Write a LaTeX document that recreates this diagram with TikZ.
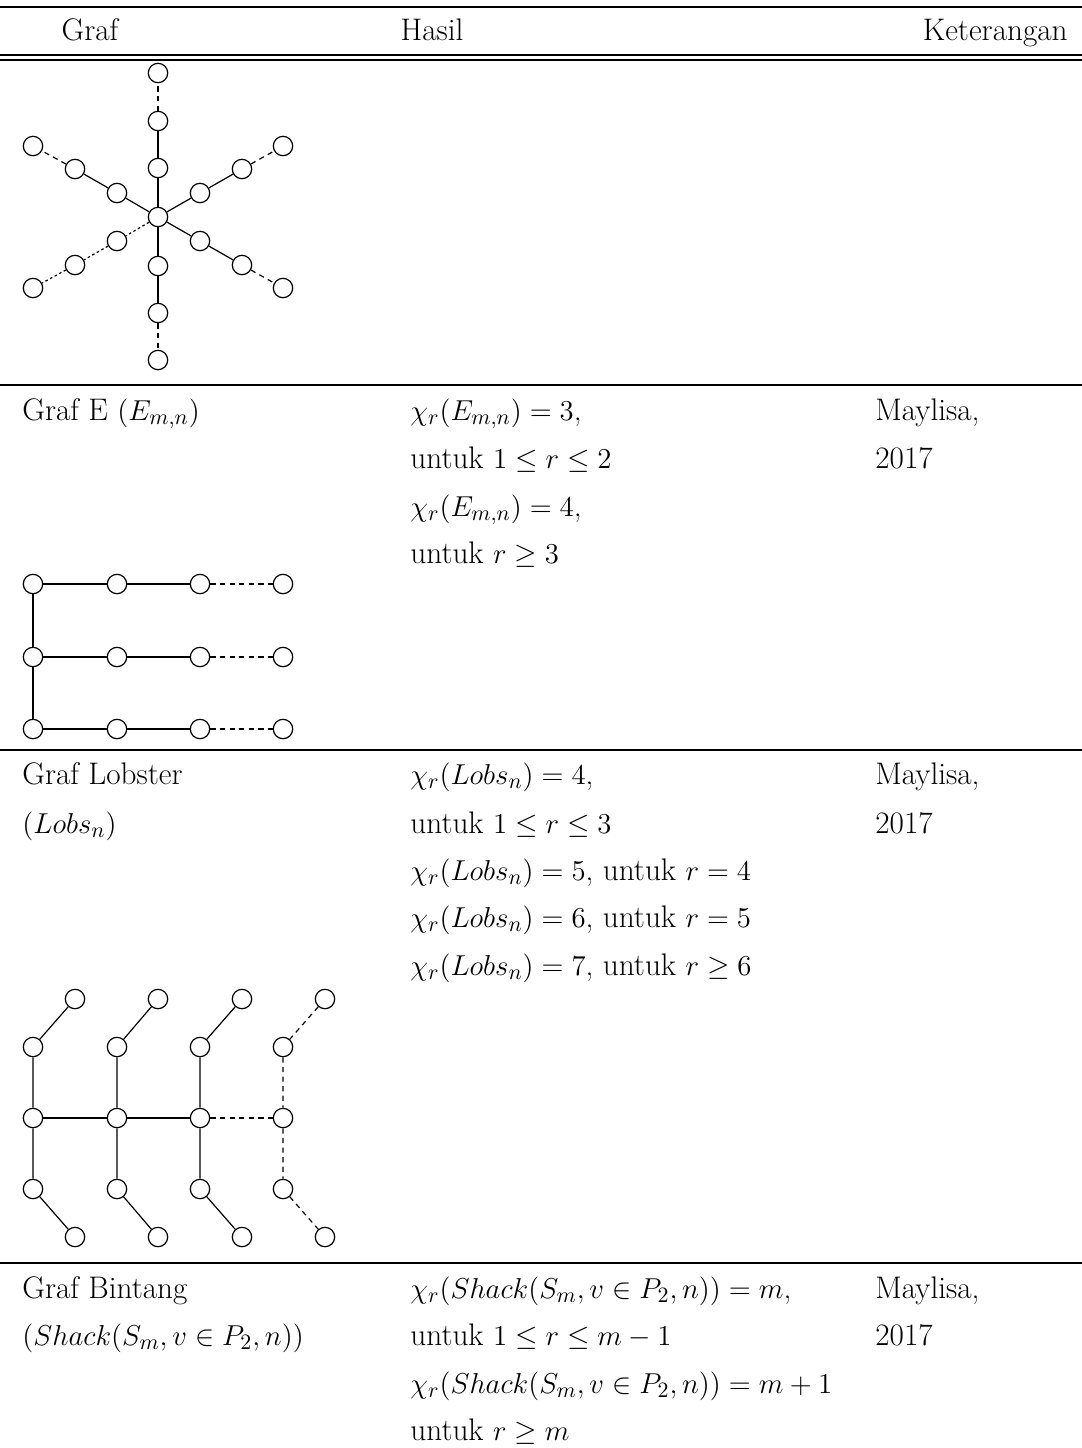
\documentclass[tikz,border=0pt]{standalone}
\usepackage{amsmath,amssymb}
\begin{document}
\begin{tikzpicture}[x=0.5pt,y=-0.5pt,
  vtx/.style={circle,draw,minimum size=9.7pt,inner sep=0pt,line width=0.6pt},
  edg/.style={line width=0.6pt},
  dsh/.style={line width=0.6pt,dash pattern=on 2.6pt off 2.2pt},
  dtt/.style={line width=0.6pt,dash pattern=on 1.3pt off 1.3pt},
  rul/.style={line width=0.8pt},
  txt/.style={anchor=base west,inner sep=0pt,font=\fontsize{15.6}{18}\selectfont},
  hd/.style={anchor=base,inner sep=0pt,font=\fontsize{15.6}{18}\selectfont}]
\useasboundingbox (0,0) rectangle (1082,1448);
% rules
\coordinate (r0a) at (0,7);   \coordinate (r0b) at (1082,7);
\coordinate (r1a) at (0,55);  \coordinate (r1b) at (1082,55);
\coordinate (r2a) at (0,60);  \coordinate (r2b) at (1082,60);
\coordinate (r3a) at (0,385); \coordinate (r3b) at (1082,385);
\coordinate (r4a) at (0,750); \coordinate (r4b) at (1082,750);
\coordinate (r5a) at (0,1263);\coordinate (r5b) at (1082,1263);
\draw[rul] (r0a) -- (r0b);
\draw[rul] (r1a) -- (r1b);
\draw[rul] (r2a) -- (r2b);
\draw[rul] (r3a) -- (r3b);
\draw[rul] (r4a) -- (r4b);
\draw[rul] (r5a) -- (r5b);
% header
\node[hd] (hgraf) at (90,40) {Graf};
\node[hd] (hhasil) at (432,40) {Hasil};
\node[hd,anchor=base east] (hket) at (1068,40) {Keterangan};
% star graph
\node[vtx] (c) at (158,217) {};
\node[vtx] (u1) at (158,168) {};
\node[vtx] (u2) at (158,121) {};
\node[vtx] (u3) at (158,73) {};
\node[vtx] (d1) at (158,266) {};
\node[vtx] (d2) at (158,313) {};
\node[vtx] (d3) at (158,360) {};
\node[vtx] (ul1) at (117,193) {};
\node[vtx] (ul2) at (75,169) {};
\node[vtx] (ul3) at (33,146) {};
\node[vtx] (ur1) at (200,193) {};
\node[vtx] (ur2) at (242,169) {};
\node[vtx] (ur3) at (283,146) {};
\node[vtx] (ll1) at (117,241) {};
\node[vtx] (ll2) at (75,265) {};
\node[vtx] (ll3) at (33,288) {};
\node[vtx] (lr1) at (200,241) {};
\node[vtx] (lr2) at (242,265) {};
\node[vtx] (lr3) at (283,288) {};
\draw[edg] (c) -- (u1) -- (u2);
\draw[dsh] (u2) -- (u3);
\draw[edg] (c) -- (d1) -- (d2);
\draw[dsh] (d2) -- (d3);
\draw[edg] (c) -- (ul1) -- (ul2);
\draw[dsh] (ul2) -- (ul3);
\draw[edg] (c) -- (ur1) -- (ur2);
\draw[dsh] (ur2) -- (ur3);
\draw[dtt] (c) -- (ll1) -- (ll2) -- (ll3);
\draw[edg] (c) -- (lr1) -- (lr2);
\draw[dsh] (lr2) -- (lr3);
% row E text
\node[txt] (e1) at (22,420) {Graf E $(E_{m,n})$};
\node[txt] (e2) at (410,420) {$\chi_r(E_{m,n})=3$,};
\node[txt] (e3) at (410,468) {untuk $1\le r\le 2$};
\node[txt] (e4) at (410,516) {$\chi_r(E_{m,n})=4$,};
\node[txt] (e5) at (410,563) {untuk $r\ge 3$};
\node[txt] (e6) at (875,420) {Maylisa,};
\node[txt] (e7) at (875,468) {2017};
% E graph
\foreach \r/\y in {a/584,b/657,c/729}{
  \node[vtx] (E\r1) at (33,\y) {};
  \node[vtx] (E\r2) at (117,\y) {};
  \node[vtx] (E\r3) at (200,\y) {};
  \node[vtx] (E\r4) at (283,\y) {};
  \draw[edg] (E\r1) -- (E\r2) -- (E\r3);
  \draw[dsh] (E\r3) -- (E\r4);
}
\draw[edg] (Ea1) -- (Eb1) -- (Ec1);
% lobster text
\node[txt] (l1) at (22,784) {Graf Lobster};
\node[txt] (l2) at (22,833) {$(Lobs_n)$};
\node[txt] (l3) at (410,784) {$\chi_r(Lobs_n)=4$,};
\node[txt] (l4) at (410,833) {untuk $1\le r\le 3$};
\node[txt] (l5) at (410,880) {$\chi_r(Lobs_n)=5$, untuk $r=4$};
\node[txt] (l6) at (410,927) {$\chi_r(Lobs_n)=6$, untuk $r=5$};
\node[txt] (l7) at (410,975) {$\chi_r(Lobs_n)=7$, untuk $r\ge 6$};
\node[txt] (l8) at (875,784) {Maylisa,};
\node[txt] (l9) at (875,833) {2017};
% lobster graph
\foreach \i/\x/\lx in {1/33/75,2/117/158,3/200/242,4/283/325}{
  \node[vtx] (T\i) at (\lx,999) {};
  \node[vtx] (A\i) at (\x,1047) {};
  \node[vtx] (B\i) at (\x,1118) {};
  \node[vtx] (C\i) at (\x,1189) {};
  \node[vtx] (D\i) at (\lx,1237) {};
}
\foreach \i in {1,2,3}{
  \draw[edg] (T\i) -- (A\i) -- (B\i) -- (C\i) -- (D\i);
}
\draw[dsh] (T4) -- (A4) -- (B4) -- (C4) -- (D4);
\draw[edg] (B1) -- (B2) -- (B3);
\draw[dsh] (B3) -- (B4);
% bintang text
\node[txt] (b1) at (22,1298) {Graf Bintang};
\node[txt] (b2) at (22,1345) {$(Shack(S_m,v\in P_2,n))$};
\node[txt] (b3) at (410,1298) {$\chi_r(Shack(S_m,v\in P_2,n))=m$,};
\node[txt] (b4) at (410,1345) {untuk $1\le r\le m-1$};
\node[txt] (b5) at (410,1393) {$\chi_r(Shack(S_m,v\in P_2,n))=m+1$};
\node[txt] (b6) at (410,1440) {untuk $r\ge m$};
\node[txt] (b7) at (875,1298) {Maylisa,};
\node[txt] (b8) at (875,1345) {2017};
\end{tikzpicture}
\end{document}
